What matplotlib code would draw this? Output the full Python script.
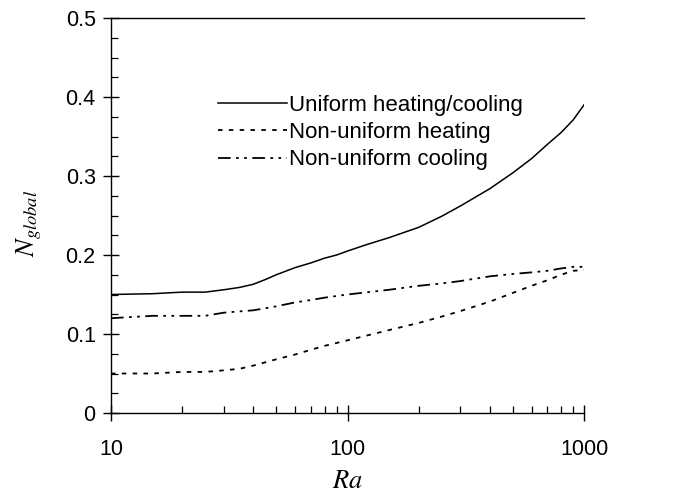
import matplotlib
matplotlib.use("Agg")
import matplotlib.pyplot as plt
from matplotlib.ticker import MultipleLocator, LogLocator, NullFormatter, FixedLocator, FixedFormatter

ra_uniform = [10, 15, 20, 25, 30, 35, 40, 45, 50, 60, 70, 80, 90, 100, 120, 150, 200, 250, 300, 400, 500, 600, 700, 800, 900, 1000]
n_uniform = [0.150, 0.151, 0.153, 0.153, 0.156, 0.159, 0.163, 0.169, 0.175, 0.184, 0.190, 0.196, 0.200, 0.205, 0.213, 0.222, 0.235, 0.249, 0.262, 0.284, 0.304, 0.322, 0.340, 0.355, 0.371, 0.390]

ra_heat = [10, 15, 20, 25, 30, 35, 40, 50, 60, 70, 80, 100, 150, 200, 250, 300, 400, 500, 600, 700, 800, 900, 1000]
n_heat = [0.050, 0.050, 0.052, 0.052, 0.054, 0.056, 0.060, 0.068, 0.074, 0.080, 0.085, 0.092, 0.105, 0.114, 0.122, 0.129, 0.141, 0.152, 0.161, 0.168, 0.175, 0.180, 0.181]

ra_cool = [10, 15, 20, 25, 30, 40, 50, 60, 70, 80, 100, 150, 200, 250, 300, 400, 500, 600, 700, 800, 900, 1000]
n_cool = [0.120, 0.123, 0.123, 0.123, 0.127, 0.130, 0.135, 0.140, 0.143, 0.146, 0.150, 0.156, 0.161, 0.164, 0.167, 0.173, 0.176, 0.178, 0.180, 0.183, 0.185, 0.185]

labels = ["Uniform heating/cooling", "Non-uniform heating", "Non-uniform cooling"]
x_ticks = [10, 100, 1000]
x_tick_labels = ["10", "100", "1000"]
y_ticks = [0, 0.1, 0.2, 0.3, 0.4, 0.5]
y_tick_labels = ["0", "0.1", "0.2", "0.3", "0.4", "0.5"]

plt.rcParams['font.family'] = ['Liberation Sans', 'DejaVu Sans']
plt.rcParams['mathtext.fontset'] = 'stix'

fig = plt.figure(figsize=(6.9, 4.97), dpi=100)
ax = fig.add_axes([111/690, 84/497, (584-111)/690, (413-18)/497])

ax.plot(ra_uniform, n_uniform, color='black', lw=1.1, ls='-', label=labels[0])
ax.plot(ra_heat, n_heat, color='black', lw=1.3, ls=(0, (2.5, 3.5)), label=labels[1])
ax.plot(ra_cool, n_cool, color='black', lw=1.3, ls=(0, (7, 3, 1.5, 3, 1.5, 3)), label=labels[2])

ax.set_xscale('log')
ax.set_xlim(10, 1000)
ax.set_ylim(0, 0.5)

ax.xaxis.set_major_locator(FixedLocator(x_ticks))
ax.xaxis.set_major_formatter(FixedFormatter(x_tick_labels))
ax.xaxis.set_minor_locator(LogLocator(base=10, subs=range(2, 10)))
ax.xaxis.set_minor_formatter(NullFormatter())
ax.yaxis.set_major_locator(FixedLocator(y_ticks))
ax.yaxis.set_major_formatter(FixedFormatter(y_tick_labels))
ax.yaxis.set_minor_locator(MultipleLocator(0.025))

ax.spines['right'].set_visible(False)
for s in ['left', 'bottom', 'top']:
    ax.spines[s].set_linewidth(1.0)

ax.tick_params(axis='both', which='major', direction='inout', length=12, width=1.0, labelsize=15.5, top=False, right=False)
ax.tick_params(axis='both', which='minor', direction='in', length=5, width=0.9, top=False, right=False)
ax.tick_params(axis='x', which='major', pad=13)
ax.tick_params(axis='y', which='major', pad=5)

ax.set_xlabel('$Ra$', fontsize=19, labelpad=6)
ax.set_ylabel('$N_{global}$', fontsize=19)
ax.yaxis.set_label_coords(-0.141, 0.48)

leg = ax.legend(loc='upper left', bbox_to_anchor=(0.226, 0.805), frameon=False, fontsize=16,
                handlelength=3.1, handletextpad=0.1, labelspacing=0.28, borderaxespad=0,
                borderpad=0)

fig.savefig('out.png', dpi=100)
